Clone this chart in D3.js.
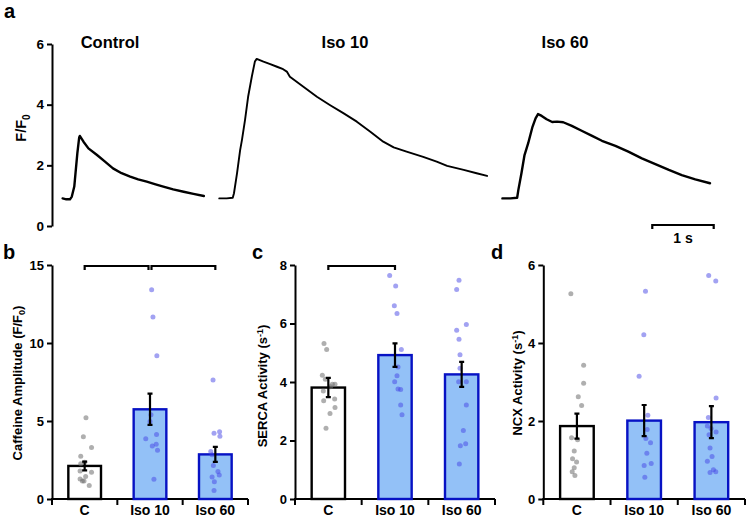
<!DOCTYPE html>
<html><head><meta charset="utf-8">
<script src="https://cdn.jsdelivr.net/npm/d3@7"></script>
<style>
body{margin:0;background:#fff;}
svg{display:block;font-family:"Liberation Sans",Arial,sans-serif;font-weight:bold;}
</style></head>
<body><svg id="chart" width="746" height="517"></svg>
<script>
// ---------- DATA ----------
// Panel a: traces, [time (s), F/F0]
const traceControl = [[0.01,0.91],[0.07,0.88],[0.13,0.88],[0.16,0.97],[0.20,1.30],[0.21,1.52],[0.25,2.40],[0.28,2.92],[0.29,2.97],[0.35,2.78],[0.43,2.56],[0.57,2.34],[0.70,2.12],[0.83,1.90],[0.97,1.74],[1.11,1.63],[1.24,1.54],[1.38,1.46],[1.51,1.38],[1.65,1.30],[1.81,1.21],[1.98,1.13],[2.14,1.06],[2.31,0.99]];
const traceIso10 = [[2.56,0.91],[2.68,0.91],[2.78,0.93],[2.80,1.08],[2.85,1.74],[2.90,2.50],[2.93,2.84],[2.98,3.50],[3.03,4.26],[3.09,4.92],[3.14,5.42],[3.17,5.51],[3.28,5.42],[3.39,5.34],[3.50,5.25],[3.60,5.17],[3.66,5.09],[3.71,4.92],[3.93,4.59],[4.15,4.26],[4.36,3.99],[4.58,3.72],[4.80,3.44],[5.02,3.11],[5.23,2.78],[5.40,2.59],[5.61,2.45],[5.88,2.28],[6.10,2.12],[6.27,1.98],[6.54,1.85],[6.75,1.74],[6.92,1.65]];
const traceIso60 = [[7.17,0.91],[7.30,0.91],[7.41,0.93],[7.43,1.19],[7.48,1.74],[7.53,2.34],[7.59,2.73],[7.66,3.27],[7.71,3.55],[7.75,3.69],[7.81,3.63],[7.89,3.52],[7.98,3.43],[8.06,3.44],[8.16,3.42],[8.30,3.30],[8.46,3.14],[8.63,2.97],[8.79,2.81],[9.01,2.64],[9.22,2.45],[9.44,2.23],[9.66,2.04],[9.88,1.85],[10.09,1.68],[10.31,1.54],[10.55,1.41]];
const traceTitles = ["Control","Iso 10","Iso 60"];
const traceTicks = [0,2,4,6];
const scaleBarSeconds = 1;

// Panels b-d
const categories = ["C","Iso 10","Iso 60"];

const caffeineMean = [2.12,5.75,2.86];
const caffeineSem  = [0.28,1.00,0.48];
const caffeineDots = [
  [[0.04,5.21],[-0.04,3.99],[0.21,3.30],[-0.12,2.74],[-0.12,2.26],[0.00,2.35],[0.21,1.71],[-0.14,1.80],[0.03,1.44],[-0.14,1.29],[-0.07,1.16],[-0.02,1.16],[0.14,0.86]],
  [[0.05,13.41],[0.09,11.66],[0.21,9.19],[0.03,5.40],[0.00,4.97],[-0.13,3.86],[0.20,4.14],[0.07,3.39],[0.19,3.51],[0.23,3.13],[0.12,1.26]],
  [[-0.07,7.63],[-0.04,4.22],[0.13,4.31],[0.14,4.03],[-0.14,3.04],[-0.10,2.83],[-0.06,2.14],[0.08,1.76],[0.12,1.54],[-0.10,1.41],[-0.03,1.11],[-0.04,0.54]]
];
const caffeineTicks = [0,5,10,15];

const sercaMean = [3.81,4.92,4.26];
const sercaSem  = [0.33,0.40,0.43];
const sercaDots = [
  [[-0.13,5.32],[-0.05,5.11],[-0.18,4.23],[-0.09,4.09],[0.20,3.92],[0.12,3.92],[-0.15,3.69],[0.07,3.84],[0.19,3.42],[-0.14,3.36],[0.20,3.13],[0.05,2.92],[-0.07,2.42]],
  [[-0.16,7.64],[0.02,7.28],[-0.02,6.61],[0.06,6.34],[0.19,5.11],[0.09,4.51],[0.06,4.21],[-0.01,4.01],[0.09,3.76],[0.17,3.74],[0.17,3.21],[0.21,2.88]],
  [[-0.08,7.48],[-0.15,7.16],[0.14,5.97],[-0.15,5.77],[-0.08,5.46],[-0.05,4.93],[-0.05,4.47],[-0.09,4.01],[0.14,4.01],[0.14,3.21],[0.05,2.34],[0.12,1.89],[-0.04,1.82],[-0.07,1.20]]
];
const sercaTicks = [0,2,4,6,8];

const ncxMean = [1.87,2.01,1.97];
const ncxSem  = [0.32,0.40,0.41];
const ncxDots = [
  [[-0.18,5.26],[0.20,3.43],[0.20,2.97],[0.04,2.62],[0.14,2.40],[-0.16,1.57],[0.02,1.52],[-0.08,1.23],[-0.13,1.03],[-0.01,0.95],[-0.08,0.80],[-0.14,0.70],[-0.06,0.60]],
  [[0.04,5.33],[-0.01,4.21],[-0.15,3.15],[0.11,2.15],[0.09,1.78],[0.05,1.55],[0.19,1.44],[0.08,1.17],[0.21,0.91],[0.00,0.86],[0.02,0.56]],
  [[-0.08,5.73],[0.13,5.59],[0.14,2.59],[-0.09,2.09],[-0.12,1.87],[-0.01,1.81],[0.14,1.72],[-0.07,1.65],[-0.04,1.31],[0.02,1.09],[-0.12,0.97],[0.06,0.75],[-0.04,0.68],[0.13,0.70]]
];
const ncxTicks = [0,2,4,6];

// ---------- DRAW ----------
const svg = d3.select("#chart");
const BLACK = "#000";
const BAR_BLUE = "#93c1f7", EDGE_BLUE = "#0712c4";

// Panel letters
[["a",4,18],["b",3,259],["c",252,259],["d",491,259]].forEach(([t,x,y])=>{
  svg.append("text").attr("x",x).attr("y",y).attr("font-size",20).attr("font-weight","bold").text(t);
});

// ---- Panel a ----
const xA = d3.scaleLinear().domain([0,10.61]).range([62,713.7]);
const yA = d3.scaleLinear().domain([0,6]).range([226,44]);
const gA = svg.append("g");
const axA = gA.append("g").attr("transform","translate(52,0)")
  .call(d3.axisLeft(yA).tickValues(traceTicks).tickSize(5).tickSizeOuter(0).tickPadding(3).tickFormat(d3.format("d")));
axA.select(".domain").attr("stroke-width",2);
axA.selectAll(".tick line").attr("stroke-width",2);
axA.selectAll("text").attr("font-size",13.5).attr("font-weight","bold").attr("font-family","Liberation Sans, Arial");

const fl = gA.append("text").attr("transform","translate(26,128) rotate(-90)")
  .attr("text-anchor","middle").attr("font-size",14.5);
fl.append("tspan").text("F/F");
fl.append("tspan").attr("font-size",10).attr("dy",4).text("0");

const line = d3.line().x(d=>xA(d[0])).y(d=>yA(d[1]));
[[traceControl,2.4],[traceIso10,1.9],[traceIso60,2.4]].forEach(([tr,w])=>{
  gA.append("path").datum(tr).attr("d",line).attr("fill","none").attr("stroke",BLACK)
    .attr("stroke-width",w).attr("stroke-linejoin","round").attr("stroke-linecap","round");
});
[[traceTitles[0],110],[traceTitles[1],345],[traceTitles[2],565]].forEach(([t,x])=>{
  gA.append("text").attr("x",x).attr("y",48).attr("text-anchor","middle").attr("font-size",16.5).text(t);
});
// scale bar
const sb0 = 9.61, sb1 = sb0 + scaleBarSeconds;
gA.append("path").attr("d",`M${xA(sb0)},${229}V225H${xA(sb1)}V229`).attr("fill","none")
  .attr("stroke",BLACK).attr("stroke-width",2.2);
gA.append("text").attr("x",(xA(sb0)+xA(sb1))/2).attr("y",243).attr("text-anchor","middle")
  .attr("font-size",14).text(scaleBarSeconds+" s");

// ---- Panels b-d ----
function barPanel(cfg){
  const g = svg.append("g");
  const x = d3.scaleBand().domain(categories).range([cfg.x0,cfg.x1]).paddingInner(0.5).paddingOuter(0.25);
  const y = d3.scaleLinear().domain(cfg.domain).range([499,265]);
  const bw = x.bandwidth();
  // y axis
  const ay = g.append("g").attr("transform",`translate(${cfg.x0},0)`)
    .call(d3.axisLeft(y).tickValues(cfg.ticks).tickSize(5).tickSizeOuter(0).tickPadding(3).tickFormat(d3.format("d")));
  ay.select(".domain").attr("stroke-width",2);
  ay.selectAll(".tick line").attr("stroke-width",2);
  ay.selectAll("text").attr("font-size",13).attr("font-weight","bold").attr("font-family","Liberation Sans, Arial");
  // x axis line + boundary ticks
  g.append("line").attr("x1",cfg.x0-1).attr("x2",cfg.x1).attr("y1",499).attr("y2",499)
    .attr("stroke",BLACK).attr("stroke-width",2);
  const bounds = [cfg.x0, ...categories.slice(1).map(c=>x(c)-x.step()*0.25), cfg.x1];
  g.selectAll(".bt").data(bounds).join("line").attr("x1",d=>d).attr("x2",d=>d)
    .attr("y1",499).attr("y2",505).attr("stroke",BLACK).attr("stroke-width",2);
  g.selectAll(".cl").data(categories).join("text").attr("x",d=>x(d)+bw/2).attr("y",515)
    .attr("text-anchor","middle").attr("font-size",14).text(d=>d);
  // bars
  g.selectAll(".bar").data(cfg.mean).join("rect")
    .attr("x",(d,i)=>x(categories[i])).attr("width",bw)
    .attr("y",d=>y(d)).attr("height",d=>499-y(d))
    .attr("fill",(d,i)=>i===0?"#fff":BAR_BLUE)
    .attr("stroke",(d,i)=>i===0?BLACK:EDGE_BLUE).attr("stroke-width",2.4);
  // dots
  cfg.dots.forEach((arr,i)=>{
    const cx = x(categories[i])+bw/2;
    g.selectAll(null).data(arr).join("circle")
      .attr("cx",d=>cx+d[0]*bw).attr("cy",d=>y(d[1])).attr("r",2.5)
      .attr("fill",i===0?"#6e6e6e":"#4646e6").attr("fill-opacity",i===0?0.55:0.5);
  });
  // error bars
  cfg.mean.forEach((m,i)=>{
    const cx = x(categories[i])+bw/2, s = cfg.sem[i];
    const y1 = y(m+s), y2 = y(m-s);
    g.append("path").attr("d",`M${cx},${y1}V${y2}M${cx-2.5},${y1}H${cx+2.5}M${cx-2.5},${y2}H${cx+2.5}`)
      .attr("stroke",BLACK).attr("stroke-width",2.2).attr("fill","none");
  });
  // significance brackets
  cfg.brackets.forEach(([a,b,dxa,dxb])=>{
    const xa = x(categories[a])+bw/2+dxa, xb = x(categories[b])+bw/2+dxb, yb = y(cfg.domain[1])+1;
    g.append("path").attr("d",`M${xa},${yb+4}V${yb}H${xb}V${yb+4}`).attr("fill","none")
      .attr("stroke",BLACK).attr("stroke-width",2.2);
  });
  // y title
  const t = g.append("text").attr("transform",`translate(${cfg.tx},${cfg.ty}) rotate(-90)`)
    .attr("text-anchor","middle").attr("font-size",13);
  cfg.title(t);
}

barPanel({x0:52,x1:248,domain:[0,15],ticks:caffeineTicks,mean:caffeineMean,sem:caffeineSem,dots:caffeineDots,
  brackets:[[0,1,0,-1.5],[1,2,1.5,0]],tx:22,ty:383,
  title:t=>{t.append("tspan").text("Caffeine Amplitude (F/F");t.append("tspan").attr("font-size",9).attr("dy",3).text("0");t.append("tspan").attr("dy",-3).text(")");}});
barPanel({x0:295,x1:495,domain:[0,8],ticks:sercaTicks,mean:sercaMean,sem:sercaSem,dots:sercaDots,
  brackets:[[0,1,0,0]],tx:267,ty:386,
  title:t=>{t.append("tspan").text("SERCA Activity (s");t.append("tspan").attr("font-size",9).attr("dy",-4).text("-1");t.append("tspan").attr("dy",4).text(")");}});
barPanel({x0:543.3,x1:745,domain:[0,6],ticks:ncxTicks,mean:ncxMean,sem:ncxSem,dots:ncxDots,
  brackets:[],tx:522,ty:383,
  title:t=>{t.append("tspan").text("NCX Activity (s");t.append("tspan").attr("font-size",9).attr("dy",-4).text("-1");t.append("tspan").attr("dy",4).text(")");}});
</script></body></html>
